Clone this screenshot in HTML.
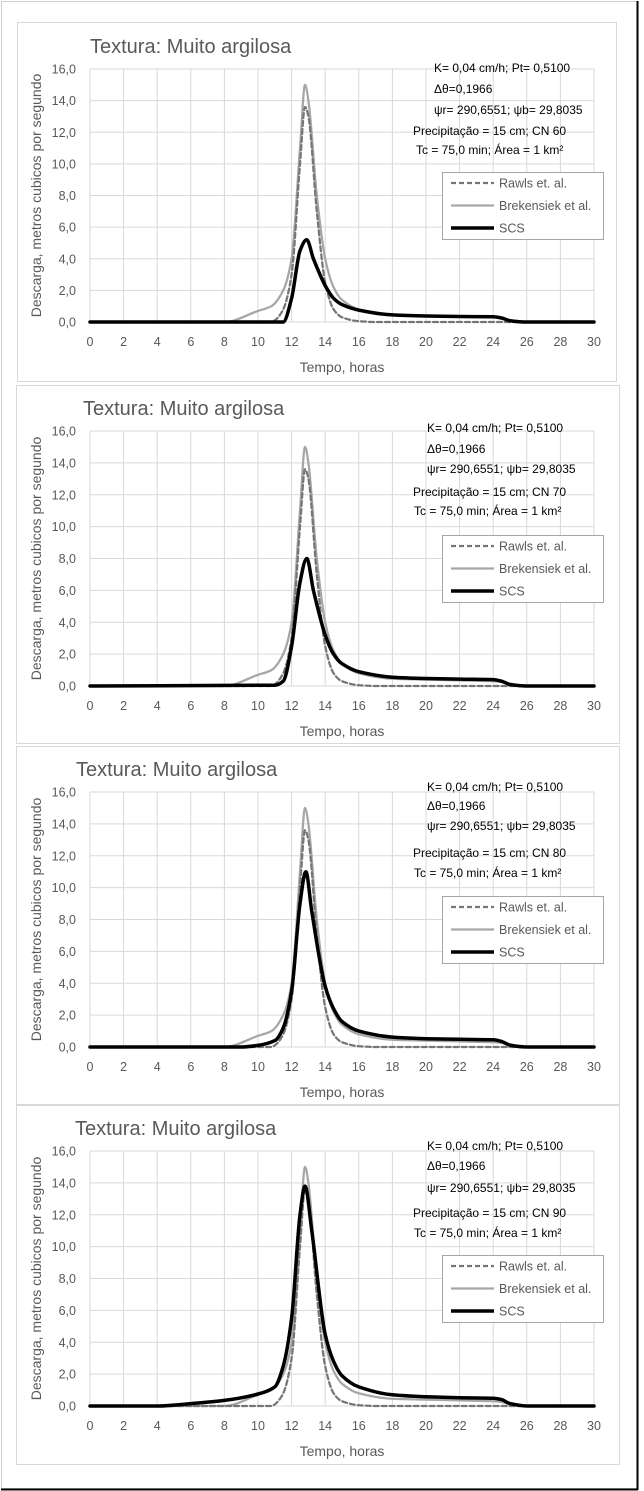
<!DOCTYPE html>
<html><head><meta charset="utf-8">
<style>
html,body{margin:0;padding:0;background:#fff;}
svg{display:block;font-family:"Liberation Sans",sans-serif;}
</style></head>
<body>
<svg id="chart" width="644" height="1491" viewBox="0 0 644 1491" xmlns="http://www.w3.org/2000/svg">
<rect x="1.5" y="1.5" width="636" height="1487" fill="#fff" stroke="#d0d0d0" stroke-width="1"/>
<line x1="637.5" y1="1" x2="637.5" y2="1490" stroke="#000" stroke-width="2"/>
<line x1="1" y1="1489.5" x2="638" y2="1489.5" stroke="#000" stroke-width="2"/>
</svg>
<script>
// Shared data
const xTicks = [0,2,4,6,8,10,12,14,16,18,20,22,24,26,28,30];
const yTicks = [0,2,4,6,8,10,12,14,16];
const yTickLabels = ["0,0","2,0","4,0","6,0","8,0","10,0","12,0","14,0","16,0"];
const rawlsT = [0,10.8,11,11.5,12,12.5,12.8,13,13.5,14,14.5,15,16,17,30];
const rawlsQ = [0,0,0.1,0.8,3,10,13.6,13,7,2.5,0.8,0.3,0.05,0,0];
const brekT = [0,8,10,10.8,11.5,12,12.5,12.8,13,13.5,14,14.5,15,16,18,20,22,24,24.5,25,26,30];
const brekQ = [0,0,0.7,1.0,2,4,11,15,14,8,4,2.2,1.4,0.8,0.45,0.4,0.35,0.3,0.25,0.12,0.02,0];
const scs60T = [0,11.5,12,12.5,12.9,13.3,14,14.5,15,16,18,20,22,24,24.5,25,26,30];
const scs60Q = [0,0,1.5,4.5,5.2,4,2.3,1.5,1.1,0.75,0.45,0.38,0.35,0.33,0.25,0.08,0,0];
const scs70T = [0,11,11.5,12,12.5,12.9,13.3,14,14.5,15,16,18,20,22,24,24.5,25,26,30];
const scs70Q = [0,0.05,0.3,2.5,6.5,8.0,6.0,3.2,2.0,1.4,0.9,0.55,0.47,0.43,0.4,0.3,0.1,0,0];
const scs80T = [0,9,10,11,11.5,12,12.5,12.85,13.2,14,14.5,15,16,18,20,22,24,24.5,25,26,30];
const scs80Q = [0,0,0.1,0.4,1.2,3.5,9,11,8.5,3.8,2.4,1.6,1.0,0.62,0.52,0.48,0.45,0.35,0.12,0,0];
const scs90T = [0,4,6,8,10,11,11.5,12,12.5,12.8,13.2,14,14.5,15,16,18,20,22,24,24.5,25,26,30];
const scs90Q = [0,0,0.15,0.35,0.75,1.2,2.5,5.5,12,13.8,11,4.5,2.8,1.9,1.2,0.7,0.58,0.52,0.48,0.4,0.15,0,0];
const cnLabels = ["60","70","80","90"];

const panels = [
 {box:[17,22,599,359], y0:322, y16:69, title:90, ann:[434,413,416], annY:[68,89,110,131,150], leg:172, scsT:scs60T, scsQ:scs60Q},
 {box:[16,385,603,358], y0:686, y16:431, title:83, ann:[427,413,414], annY:[428,449,469,492,511], leg:535, scsT:scs70T, scsQ:scs70Q},
 {box:[16,746,603,358], y0:1047, y16:792, title:76, ann:[427,413,414], annY:[787,806,826,853,873], leg:896, scsT:scs80T, scsQ:scs80Q},
 {box:[16,1105,603,359], y0:1406, y16:1151, title:75, ann:[427,413,414], annY:[1146,1166,1188,1213,1233], leg:1255, scsT:scs90T, scsQ:scs90Q}
];
const NS="http://www.w3.org/2000/svg";
const svg=document.getElementById('chart');
function mk(tag,attrs,parent){const e=document.createElementNS(NS,tag);for(const k in attrs)e.setAttribute(k,attrs[k]);(parent||svg).appendChild(e);return e;}
// monotone cubic path
function monoPath(xs,ys){
  const n=xs.length, d=[], m=[];
  for(let i=0;i<n-1;i++)d.push((ys[i+1]-ys[i])/(xs[i+1]-xs[i]));
  m[0]=d[0];m[n-1]=d[n-2];
  for(let i=1;i<n-1;i++){ if(d[i-1]*d[i]<=0)m[i]=0; else m[i]=3*(d[i-1]+d[i])/( (2*d[i]+d[i-1])/d[i-1]*d[i-1]/d[i]*0+ (d[i-1]+d[i]) ) * 0 + 2/(1/d[i-1]+1/d[i]); }
  let s='M'+xs[0].toFixed(1)+','+ys[0].toFixed(1);
  for(let i=0;i<n-1;i++){const h=xs[i+1]-xs[i];
    s+=' C'+(xs[i]+h/3).toFixed(1)+','+(ys[i]+m[i]*h/3).toFixed(1)+' '+(xs[i+1]-h/3).toFixed(1)+','+(ys[i+1]-m[i+1]*h/3).toFixed(1)+' '+xs[i+1].toFixed(1)+','+ys[i+1].toFixed(1);}
  return s;
}
const X0=90,X1=594;
panels.forEach((p,i)=>{
  const g=mk('g',{});
  
  
  const bx=mk('rect',{x:p.box[0]+0.5,y:p.box[1]+0.5,width:p.box[2],height:p.box[3],fill:'#fff',stroke:'#d9d9d9'},g);
  
  
  const sx=t=>X0+(X1-X0)*t/30;
  const sy=v=>p.y0-(p.y0-p.y16)*v/16;
  xTicks.forEach(t=>{const l=mk('line',{x1:sx(t),x2:sx(t),y1:p.y16,y2:p.y0,stroke:'#d9d9d9','stroke-width':1},g);
    
    
    const tx=mk('text',{x:sx(t),y:p.y0+24,'font-size':12.5,fill:'#595959','text-anchor':'middle'},g);tx.textContent=t;
    
    });
  yTicks.forEach((v,j)=>{const l=mk('line',{x1:X0,x2:X1,y1:sy(v),y2:sy(v),stroke:'#d9d9d9','stroke-width':1},g);
    
    
    const tx=mk('text',{x:76,y:sy(v)+4.5,'font-size':12.5,fill:'#595959','text-anchor':'end'},g);tx.textContent=yTickLabels[j];
    
    });
  const ti=mk('text',{x:p.title,y:p.y16-16,'font-size':20,fill:'#595959'},g);ti.textContent='Textura: Muito argilosa';
  
  
  const xt=mk('text',{x:342,y:p.y0+50,'font-size':14,fill:'#595959','text-anchor':'middle'},g);xt.textContent='Tempo, horas';
  
  
  const yc=(p.y0+p.y16)/2;
  const yt=mk('text',{x:0,y:0,'font-size':14,fill:'#595959','text-anchor':'middle',transform:`translate(41,${yc}) rotate(-90)`},g);yt.textContent='Descarga, metros cubicos por segundo';
  
  
  const ann=['K= 0,04 cm/h; Pt= 0,5100','Δθ=0,1966','ψr= 290,6551;  ψb= 29,8035','Precipitação = 15 cm; CN '+cnLabels[i],'Tc = 75,0 min; Área = 1 km²'];
  const ax=[p.ann[0],p.ann[0],p.ann[0],p.ann[1],p.ann[2]];
  ann.forEach((s,k)=>{const a=mk('text',{x:ax[k],y:p.annY[k]+4,'font-size':12,fill:'#000'},g);a.textContent=s;
    
    });
  const series=[
    {t:brekT,q:brekQ,c:'#a6a6a6',w:2.25,d:'',n:'brekensiek-line'},
    {t:rawlsT,q:rawlsQ,c:'#767676',w:2.25,d:'5,3',n:'rawls-line'},
    {t:p.scsT,q:p.scsQ,c:'#000',w:3.5,d:'',n:'scs-line'}];
  series.forEach(s=>{
    const pl=mk('path',{d:monoPath(s.t.map(sx),s.q.map(sy)),fill:'none',stroke:s.c,'stroke-width':s.w,'stroke-linejoin':'round','stroke-linecap':'round'},g);
    if(s.d)pl.setAttribute('stroke-dasharray',s.d);
    
    
  });
  const L=mk('g',{},g);
  
  
  mk('rect',{x:442.5,y:p.leg+0.5,width:161,height:67,fill:'#fff',stroke:'#a6a6a6'},L);
  const le=[['Rawls et. al.','#767676',2.25,'5,3'],['Brekensiek et al.','#a6a6a6',2.25,''],['SCS','#000',3.5,'']];
  le.forEach((e,k)=>{const yy=p.leg+11+k*22.5;
    const ln=mk('line',{x1:451,x2:494,y1:yy,y2:yy,stroke:e[1],'stroke-width':e[2]},L);if(e[3])ln.setAttribute('stroke-dasharray',e[3]);
    
    
    const tx=mk('text',{x:499,y:yy+4.5,'font-size':12.5,fill:'#595959'},L);tx.textContent=e[0];
    
    });
});
</script>
</body></html>
